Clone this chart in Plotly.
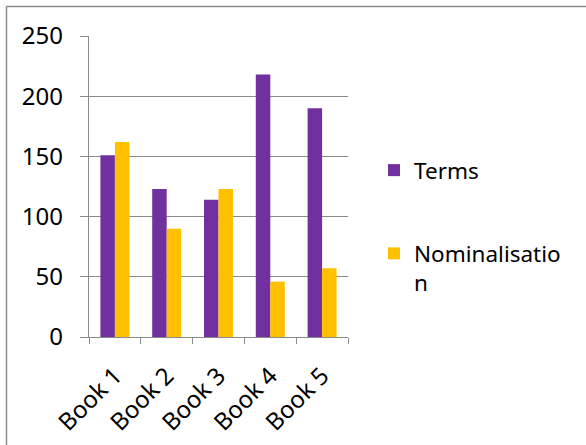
import plotly.graph_objects as go

books = ["Book 1", "Book 2", "Book 3", "Book 4", "Book 5"]
terms = [151, 123, 114, 218, 190]
nominalisation = [162, 90, 123, 46, 57]
series_names = ["Terms", "Nominalisatio<br>n"]
y_ticks = [0, 50, 100, 150, 200, 250]

W, H = 586, 445
L, R, T, B = 89, 238, 36, 108
pw, ph = W - L - R, H - T - B

def px_x(x):
    return (x - L) / pw

def px_y(y):
    return (H - B - y) / ph

FONT = "Noto Sans"
GRID = "#8a8a8a"

fig = go.Figure()
fig.add_trace(go.Bar(x=books, y=terms, name=series_names[0],
                     marker=dict(color="#7030A0", line=dict(width=0)),
                     legendgroup="a"))
fig.add_trace(go.Bar(x=books, y=nominalisation, name=series_names[1],
                     marker=dict(color="#FFC000", line=dict(width=0)),
                     legendgroup="b"))

fig.update_layout(
    width=W, height=H,
    margin=dict(l=L, r=R, t=T, b=B, autoexpand=False),
    paper_bgcolor="white", plot_bgcolor="white",
    font=dict(family=FONT, size=24, color="black"),
    barmode="group", bargap=0.44, bargroupgap=0,
    showlegend=True,
    legend=dict(x=px_x(374), y=px_y(149), xanchor="left", yanchor="top",
                font=dict(family=FONT, size=22.5, color="black"),
                tracegroupgap=51, valign="top", bgcolor="rgba(0,0,0,0)",
                borderwidth=0),
    shapes=[
        dict(type="line", xref="paper", yref="paper",
             x0=px_x(6.5), x1=px_x(6.5), y0=px_y(6.5), y1=px_y(460),
             line=dict(color="#8c8c8c", width=1.5)),
        dict(type="line", xref="paper", yref="paper",
             x0=px_x(6.5), x1=px_x(600), y0=px_y(6.5), y1=px_y(6.5),
             line=dict(color="#8c8c8c", width=1.5)),
    ],
)

fig.update_xaxes(
    showline=True, linecolor=GRID, linewidth=1.3,
    ticks="outside", tickson="boundaries", ticklen=6, tickcolor=GRID,
    tickwidth=1.3, tickangle=-45, showgrid=False,
    ticklabelstandoff=14,
    tickfont=dict(family=FONT, size=24),
)
fig.update_yaxes(
    range=[0, 250], tickvals=y_ticks, showgrid=True, gridcolor=GRID,
    gridwidth=1.3, showline=True, linecolor=GRID, linewidth=1.3,
    ticks="outside", ticklen=8, tickcolor=GRID, tickwidth=1.3,
    ticklabelstandoff=12, zeroline=False,
    tickfont=dict(family=FONT, size=24),
)

fig.write_html("out.html")
